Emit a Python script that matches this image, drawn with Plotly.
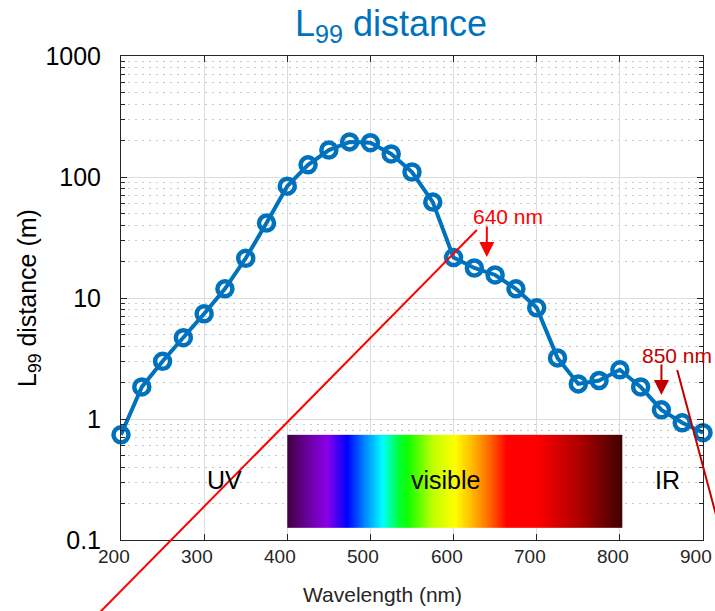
import numpy as np
import plotly.graph_objects as go

# L99 distance versus wavelength
wavelength_nm = [200, 225, 250, 275, 300, 325, 350, 375, 400, 425, 450, 475, 500, 525,
                 550, 575, 600, 625, 650, 675, 700, 725, 750, 775, 800, 825, 850, 875, 900]
l99_m = [0.74, 1.84, 3.0, 4.7, 7.4, 11.9, 21.3, 41.6, 84, 126, 167, 195, 192, 155,
         110, 62, 21.6, 17.7, 15.5, 11.9, 8.3, 3.2, 1.95, 2.08, 2.55, 1.84, 1.19, 0.93, 0.77]

# colour band of the visible spectrum
spectrum_nm = [400, 425, 448, 472, 495, 515, 533, 545, 575, 602, 625, 645, 664, 700, 750, 803]
spectrum_colors = ["#400040", "#6a00a0", "#8a00e8", "#0000ff", "#0090ff", "#00ffff", "#00ff40",
                   "#10ff00", "#c0ff00", "#ffff00", "#ffb000", "#ff6000", "#ff0000", "#ff0000",
                   "#b00000", "#400000"]
spectrum_band_nm = [400, 803]
spectrum_band_m = [0.127, 0.74]

# region names
region_labels = ["UV", "visible", "IR"]
region_nm = [325, 590, 857]
region_m = [0.316, 0.316, 0.316]

# highlighted wavelengths
marker_nm = [640, 850]
marker_m = [21.8, 1.58]
marker_text = ["640 nm", "850 nm"]
marker_colors = ["#ff0000", "#c00000"]
marker_label_nm = [665, 869]
marker_label_m = [47.2, 3.35]

# guide lines (wavelength, distance) start/end
guide_nm = [[169, 628], [869, 926]]
guide_m = [[0.0231, 36.5], [2.54, 0.0875]]

x_ticks = [200, 300, 400, 500, 600, 700, 800, 900]
y_ticks = [0.1, 1, 10, 100, 1000]
y_ticktext = ["0.1", "1", "10", "100", "1000"]

X_RANGE = [200, 900]
Y_RANGE = [-1, 3]
BLUE = "#0072bd"
GREY_TEXT = "#262626"
FONT = "Liberation Sans, Arial, sans-serif"


def xdom(v):
    return (v - X_RANGE[0]) / (X_RANGE[1] - X_RANGE[0])


def ydom(v):
    return (np.log10(v) - Y_RANGE[0]) / (Y_RANGE[1] - Y_RANGE[0])


fig = go.Figure()

# spectrum strip
lo, hi = spectrum_band_nm
edges = np.arange(lo, hi + 1)
centers = (edges[:-1] + edges[1:]) / 2.0
scale = [[(nm - lo) / (hi - lo), c] for nm, c in zip(spectrum_nm, spectrum_colors)]
fig.add_trace(go.Heatmap(
    x=edges, y=spectrum_band_m, z=[centers], zmin=lo, zmax=hi,
    colorscale=scale, showscale=False, hoverinfo="skip",
))

# main curve
fig.add_trace(go.Scatter(
    x=wavelength_nm, y=l99_m, mode="lines+markers", cliponaxis=False,
    line=dict(color=BLUE, width=4),
    marker=dict(symbol="circle-open", size=15, color=BLUE, line=dict(width=4.5, color=BLUE)),
    showlegend=False,
))

shapes = []
for (x0, x1), (y0, y1), col in zip(guide_nm, guide_m, marker_colors):
    shapes.append(dict(type="line", xref="x domain", yref="y domain",
                       x0=xdom(x0), x1=xdom(x1), y0=ydom(y0), y1=ydom(y1),
                       line=dict(color=col, width=2), layer="above"))

annotations = []
for txt, x, y in zip(region_labels, region_nm, region_m):
    annotations.append(dict(x=x, y=np.log10(y), xref="x", yref="y", text=txt, showarrow=False,
                            font=dict(family=FONT, size=25, color="#000000")))

for nm, m, txt, col, lx, ly in zip(marker_nm, marker_m, marker_text, marker_colors,
                                   marker_label_nm, marker_label_m):
    annotations.append(dict(x=nm, y=np.log10(m), xref="x", yref="y", text="", showarrow=True,
                            arrowhead=2, arrowsize=1.5, arrowwidth=2, arrowcolor=col,
                            ax=0, ay=-32))
    annotations.append(dict(x=lx, y=np.log10(ly), xref="x", yref="y", text=txt, showarrow=False,
                            font=dict(family=FONT, size=21, color=col)))

# x tick labels, set slightly left of their ticks
for v in x_ticks:
    annotations.append(dict(x=v, y=-0.0351, xref="x", yref="paper", text=str(v),
                            showarrow=False, yanchor="middle", xshift=-7,
                            font=dict(family=FONT, size=19, color=GREY_TEXT)))

annotations.append(dict(x=0.45, y=-0.1136, xref="paper", yref="paper", text="Wavelength (nm)",
                        showarrow=False, yanchor="middle",
                        font=dict(family=FONT, size=21, color=GREY_TEXT)))

minor_vals = [d * k for d in [0.1, 1, 10, 100] for k in range(2, 10)]

fig.update_layout(
    width=715, height=611,
    margin=dict(l=121, r=12, t=56, b=71, autoexpand=False),
    paper_bgcolor="white", plot_bgcolor="white",
    font=dict(family=FONT),
    title=dict(text="L<sub>99</sub> distance", x=0.464, xref="paper", xanchor="center",
               y=1 - 23 / 611, yref="container", yanchor="middle",
               font=dict(family=FONT, size=36, color=BLUE)),
    shapes=shapes,
    annotations=annotations,
    showlegend=False,
)

fig.update_xaxes(
    range=X_RANGE, tickvals=x_ticks, showticklabels=False,
    ticks="inside", ticklen=6, tickcolor=GREY_TEXT,
    showline=True, linecolor=GREY_TEXT, linewidth=1, mirror="allticks",
    showgrid=True, gridcolor="#dcdcdc", gridwidth=1, zeroline=False,
    automargin=False,
)

fig.update_yaxes(
    type="log", range=Y_RANGE, tickvals=y_ticks, ticktext=y_ticktext,
    ticks="inside", ticklen=6, tickcolor=GREY_TEXT,
    showline=True, linecolor=GREY_TEXT, linewidth=1, mirror="allticks",
    showgrid=True, gridcolor="#dcdcdc", gridwidth=1, zeroline=False,
    tickfont=dict(family=FONT, size=25, color="#000000"),
    ticklabelstandoff=14, automargin=False,
    minor=dict(tickvals=minor_vals, ticks="inside", ticklen=4, tickcolor=GREY_TEXT,
               showgrid=True, gridcolor="#c8c8c8", gridwidth=1, griddash="2px,5px"),
    title=dict(text="L<sub>99</sub> distance (m)", standoff=1,
               font=dict(family=FONT, size=25, color="#000000")),
)

fig.write_html("out.html")
